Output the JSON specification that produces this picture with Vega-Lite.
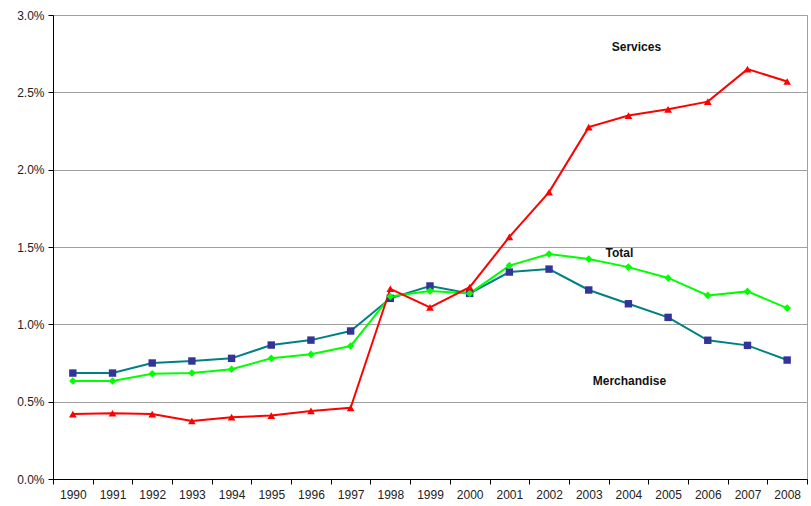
{
  "$schema": "https://vega.github.io/schema/vega-lite/v6.json",
  "width": 754,
  "height": 464,
  "autosize": "none",
  "padding": {"left": 53, "top": 15, "right": 4, "bottom": 27},
  "background": "white",
  "config": {
    "view": {"stroke": "#a0a0a0", "strokeWidth": 1},
    "font": "Liberation Sans"
  },
  "datasets": {
    "series": [
      {"year": "1990", "series": "Merchandise", "value": 0.00685},
      {"year": "1991", "series": "Merchandise", "value": 0.00685},
      {"year": "1992", "series": "Merchandise", "value": 0.0075},
      {"year": "1993", "series": "Merchandise", "value": 0.00763},
      {"year": "1994", "series": "Merchandise", "value": 0.0078},
      {"year": "1995", "series": "Merchandise", "value": 0.00866},
      {"year": "1996", "series": "Merchandise", "value": 0.00898},
      {"year": "1997", "series": "Merchandise", "value": 0.00957},
      {"year": "1998", "series": "Merchandise", "value": 0.01168},
      {"year": "1999", "series": "Merchandise", "value": 0.01248},
      {"year": "2000", "series": "Merchandise", "value": 0.012},
      {"year": "2001", "series": "Merchandise", "value": 0.01338},
      {"year": "2002", "series": "Merchandise", "value": 0.01357},
      {"year": "2003", "series": "Merchandise", "value": 0.01222},
      {"year": "2004", "series": "Merchandise", "value": 0.01133},
      {"year": "2005", "series": "Merchandise", "value": 0.01045},
      {"year": "2006", "series": "Merchandise", "value": 0.00897},
      {"year": "2007", "series": "Merchandise", "value": 0.00864},
      {"year": "2008", "series": "Merchandise", "value": 0.00769},
      {"year": "1990", "series": "Total", "value": 0.00634},
      {"year": "1991", "series": "Total", "value": 0.00634},
      {"year": "1992", "series": "Total", "value": 0.0068},
      {"year": "1993", "series": "Total", "value": 0.00685},
      {"year": "1994", "series": "Total", "value": 0.0071},
      {"year": "1995", "series": "Total", "value": 0.0078},
      {"year": "1996", "series": "Total", "value": 0.00806},
      {"year": "1997", "series": "Total", "value": 0.0086},
      {"year": "1998", "series": "Total", "value": 0.0118},
      {"year": "1999", "series": "Total", "value": 0.01215},
      {"year": "2000", "series": "Total", "value": 0.012},
      {"year": "2001", "series": "Total", "value": 0.0138},
      {"year": "2002", "series": "Total", "value": 0.01455},
      {"year": "2003", "series": "Total", "value": 0.01422},
      {"year": "2004", "series": "Total", "value": 0.0137},
      {"year": "2005", "series": "Total", "value": 0.013},
      {"year": "2006", "series": "Total", "value": 0.01187},
      {"year": "2007", "series": "Total", "value": 0.01213},
      {"year": "2008", "series": "Total", "value": 0.01105},
      {"year": "1990", "series": "Services", "value": 0.0042},
      {"year": "1991", "series": "Services", "value": 0.00425},
      {"year": "1992", "series": "Services", "value": 0.0042},
      {"year": "1993", "series": "Services", "value": 0.00375},
      {"year": "1994", "series": "Services", "value": 0.004},
      {"year": "1995", "series": "Services", "value": 0.0041},
      {"year": "1996", "series": "Services", "value": 0.0044},
      {"year": "1997", "series": "Services", "value": 0.0046},
      {"year": "1998", "series": "Services", "value": 0.0123},
      {"year": "1999", "series": "Services", "value": 0.0111},
      {"year": "2000", "series": "Services", "value": 0.0124},
      {"year": "2001", "series": "Services", "value": 0.01565},
      {"year": "2002", "series": "Services", "value": 0.01855},
      {"year": "2003", "series": "Services", "value": 0.02275},
      {"year": "2004", "series": "Services", "value": 0.0235},
      {"year": "2005", "series": "Services", "value": 0.0239},
      {"year": "2006", "series": "Services", "value": 0.0244},
      {"year": "2007", "series": "Services", "value": 0.0265},
      {"year": "2008", "series": "Services", "value": 0.0257}
    ],
    "labels": [
      {"year": "2004", "value": 0.0279, "label": "Services"},
      {"year": "2004", "value": 0.0146, "label": "Total"},
      {"year": "2004", "value": 0.00633, "label": "Merchandise"}
    ]
  },
  "encoding": {
    "x": {
      "field": "year", "type": "ordinal",
      "scale": {"type": "band", "paddingInner": 0, "paddingOuter": 0},
      "axis": {
        "title": null, "labelAngle": 0, "tickBand": "extent", "grid": false,
        "domainColor": "#000", "tickColor": "#000", "tickSize": 5,
        "labelFontSize": 12, "labelColor": "#222", "labelPadding": 5
      }
    },
    "y": {
      "field": "value", "type": "quantitative",
      "scale": {"domain": [0, 0.03], "nice": false},
      "axis": {
        "title": null, "format": ".1%", "values": [0, 0.005, 0.01, 0.015, 0.02, 0.025, 0.03],
        "domainColor": "#000", "tickColor": "#000", "tickSize": 5,
        "gridColor": "#a0a0a0", "gridWidth": 1,
        "labelFontSize": 12, "labelColor": "#222", "labelPadding": 4
      }
    }
  },
  "layer": [
    {
      "data": {"name": "series"},
      "mark": {"type": "line", "strokeWidth": 2},
      "encoding": {
        "stroke": {
          "field": "series", "type": "nominal", "legend": null,
          "scale": {"domain": ["Merchandise", "Total", "Services"], "range": ["#008080", "#00ff00", "#ff0000"]}
        }
      }
    },
    {
      "data": {"name": "series"},
      "mark": {"type": "point", "filled": true, "opacity": 1},
      "encoding": {
        "fill": {
          "field": "series", "type": "nominal", "legend": null,
          "scale": {"domain": ["Merchandise", "Total", "Services"], "range": ["#333399", "#00ff00", "#ff0000"]}
        },
        "shape": {
          "field": "series", "type": "nominal", "legend": null,
          "scale": {"domain": ["Merchandise", "Total", "Services"], "range": ["square", "diamond", "triangle-up"]}
        },
        "size": {
          "field": "series", "type": "nominal", "legend": null,
          "scale": {"domain": ["Merchandise", "Total", "Services"], "range": [55, 60, 85]}
        }
      }
    },
    {
      "data": {"name": "labels"},
      "transform": [{"filter": "datum.label === 'Services'"}],
      "mark": {"type": "text", "fontWeight": "bold", "fontSize": 12, "color": "#111", "dx": 8},
      "encoding": {"text": {"field": "label"}}
    },
    {
      "data": {"name": "labels"},
      "transform": [{"filter": "datum.label === 'Total'"}],
      "mark": {"type": "text", "fontWeight": "bold", "fontSize": 12, "color": "#111", "dx": -9},
      "encoding": {"text": {"field": "label"}}
    },
    {
      "data": {"name": "labels"},
      "transform": [{"filter": "datum.label === 'Merchandise'"}],
      "mark": {"type": "text", "fontWeight": "bold", "fontSize": 12, "color": "#111", "dx": 1},
      "encoding": {"text": {"field": "label"}}
    }
  ]
}
